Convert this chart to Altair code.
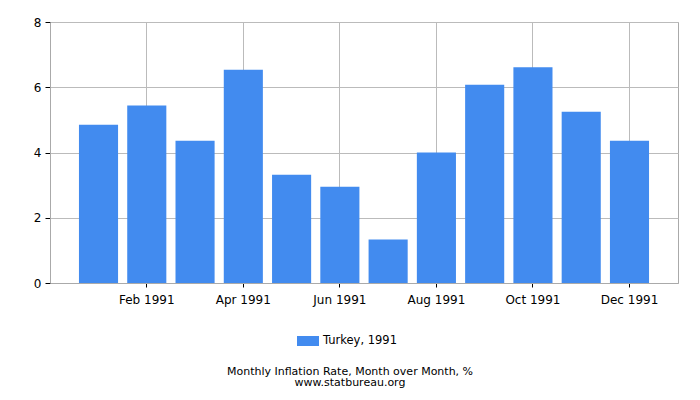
import altair as alt
import pandas as pd

months = ["Jan 1991", "Feb 1991", "Mar 1991", "Apr 1991", "May 1991", "Jun 1991",
          "Jul 1991", "Aug 1991", "Sep 1991", "Oct 1991", "Nov 1991", "Dec 1991"]
values = [4.85, 5.44, 4.36, 6.54, 3.32, 2.95, 1.33, 4.00, 6.08, 6.61, 5.25, 4.36]
series = "Turkey, 1991"
tick_labels = ["Feb 1991", "Apr 1991", "Jun 1991", "Aug 1991", "Oct 1991", "Dec 1991"]

df = pd.DataFrame({"month": months, "value": values, "series": [series] * len(months)})

FONT = "DejaVu Sans"

chart = alt.Chart(df).mark_bar(color="#428bef").encode(
    x=alt.X("month:O", sort=months, title=None,
            scale=alt.Scale(paddingInner=0.19, paddingOuter=0.6),
            axis=alt.Axis(values=tick_labels, labelAngle=0, bandPosition=0.5,
                          grid=True, gridColor="#bbbbbb", domainColor="#aaaaaa",
                          tickColor="#000000", tickSize=4, labelPadding=7,
                          labelFont=FONT, labelFontSize=12, labelColor="#000000")),
    y=alt.Y("value:Q", title=None,
            scale=alt.Scale(domain=[0, 8]),
            axis=alt.Axis(values=[0, 2, 4, 6, 8], grid=True, gridColor="#bbbbbb",
                          domainColor="#aaaaaa", tickColor="#000000", tickSize=5,
                          labelPadding=4, labelFont=FONT, labelFontSize=12,
                          labelColor="#000000")),
    color=alt.Color("series:N", scale=alt.Scale(range=["#428bef"]),
                    legend=alt.Legend(title=None, orient="none", legendX=247, legendY=308,
                                      symbolType="M-1,-0.4545H1V0.4545H-1Z",
                                      symbolSize=484, symbolStrokeWidth=0,
                                      labelFont=FONT, labelFontSize=11.5,
                                      labelColor="#000000", labelOffset=4)),
).properties(
    width=628,
    height=261,
    title=alt.TitleParams(
        text=["Monthly Inflation Rate, Month over Month, %", "www.statbureau.org"],
        orient="bottom", anchor="middle", font=FONT, fontSize=11,
        fontWeight="normal", color="#000000", offset=19, lineHeight=10.5, dx=-14,
    ),
    autosize=alt.AutoSizeParams(type="none"),
    padding={"left": 42, "top": 14, "right": 14, "bottom": 109},
).configure_view(stroke="#aaaaaa")

chart.save("out.html", embed_options={"renderer": "svg", "actions": False})
